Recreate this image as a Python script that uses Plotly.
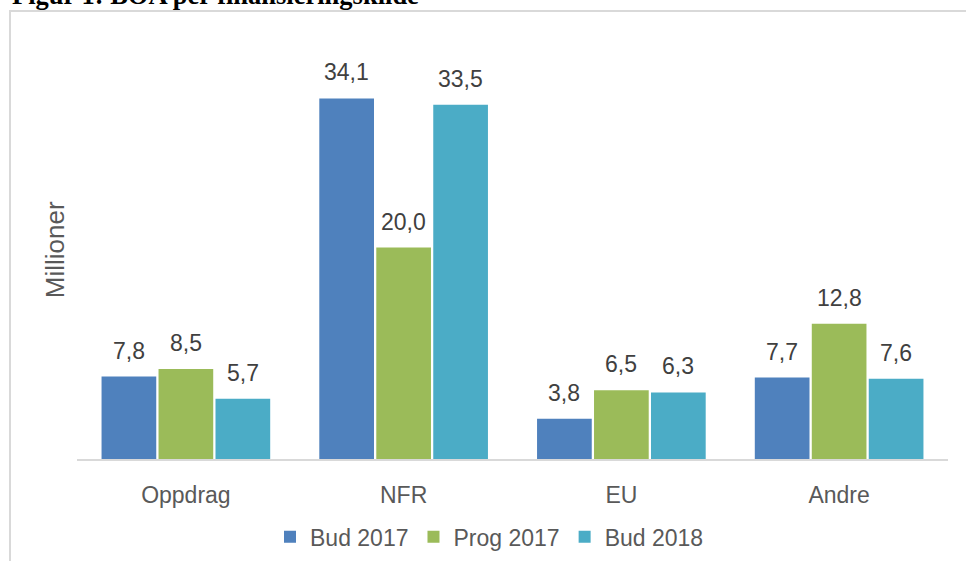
import plotly.graph_objects as go

categories = ["Oppdrag", "NFR", "EU", "Andre"]
series_names = ["Bud 2017", "Prog 2017", "Bud 2018"]
bud_2017 = [7.8, 34.1, 3.8, 7.7]
prog_2017 = [8.5, 20.0, 6.5, 12.8]
bud_2018 = [5.7, 33.5, 6.3, 7.6]
colors = ["#4F81BD", "#9BBB59", "#4BACC6"]

W, H = 966, 561
ML, MR, MT, MB = 77, 18, 35.5, 102
plot_w = W - ML - MR
plot_h = H - MT - MB
BARGAP = 0.215
BARGROUPGAP = 0.04
FONT = "Liberation Sans, Arial, sans-serif"

fig = go.Figure()
all_series = [bud_2017, prog_2017, bud_2018]
for name, vals, col in zip(series_names, all_series, colors):
    fig.add_trace(go.Bar(name=name, x=categories, y=vals, marker_color=col,
                         marker_line_width=0))

# data labels, placed through the axes with a per-series horizontal shift
slot = plot_w / len(categories) * (1 - BARGAP) / len(all_series)
for i, vals in enumerate(all_series):
    shift = (i - (len(all_series) - 1) / 2) * slot
    for c, v in zip(categories, vals):
        fig.add_annotation(x=c, y=v, xref="x", yref="y", text=f"{v:.1f}".replace(".", ","),
                           showarrow=False, yanchor="bottom", xshift=shift, yshift=11,
                           font=dict(family=FONT, size=23, color="#404040"))

# y-axis title
fig.add_annotation(x=(38 - ML) / plot_w, y=(H - MB - 250) / plot_h, xref="paper", yref="paper",
                   text="Millioner", textangle=-90, showarrow=False,
                   font=dict(family=FONT, size=26, color="#595959"))

# figure title (partially cut off at the top of the image)
fig.add_annotation(x=(10 - ML) / plot_w, y=(H - MB - 11) / plot_h, xref="paper", yref="paper",
                   xanchor="left", yanchor="bottom", showarrow=False,
                   text="<b>Figur 1: BOA per finansieringskilde</b>",
                   font=dict(family="Liberation Serif, Times New Roman, serif", size=26.5, color="#000000"))

# chart border
fig.add_shape(type="rect", xref="paper", yref="paper",
              x0=(10 - ML) / plot_w, x1=1.2, y0=-0.5, y1=(H - MB - 10.5) / plot_h,
              line=dict(color="#d9d9d9", width=2), fillcolor="rgba(0,0,0,0)", layer="below")

fig.update_layout(
    width=W, height=H,
    margin=dict(l=ML, r=MR, t=MT, b=MB, pad=0, autoexpand=False),
    paper_bgcolor="white", plot_bgcolor="white",
    barmode="group", bargap=BARGAP, bargroupgap=BARGROUPGAP,
    font=dict(family=FONT, size=23, color="#595959"),
    showlegend=True,
    legend=dict(orientation="h", x=(489.5 - ML) / plot_w, xanchor="center",
                y=(H - MB - 537) / plot_h, yanchor="middle",
                font=dict(family=FONT, size=23, color="#595959"),
                itemwidth=30, tracegroupgap=0),
    xaxis=dict(showline=True, linecolor="#d9d9d9", linewidth=2, showgrid=False,
               ticks="", ticklabelstandoff=14, tickfont=dict(family=FONT, size=23, color="#595959")),
    yaxis=dict(visible=False, range=[0, 40], showgrid=False, zeroline=False),
)

fig.write_html("out.html", config={"displayModeBar": False},
               post_script="document.body.style.margin='0';")
